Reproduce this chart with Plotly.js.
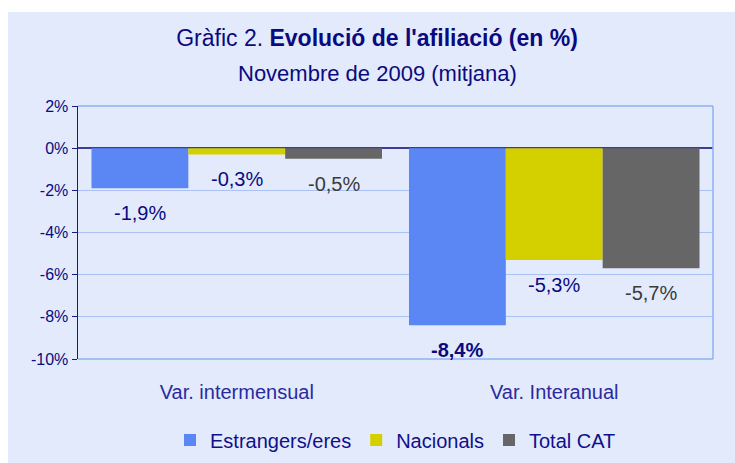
<!DOCTYPE html>
<html>
<head>
<meta charset="utf-8">
<script src="https://cdn.plot.ly/plotly-3.0.1.min.js"></script>
<style>
  html, body { margin: 0; padding: 0; background: #ffffff; }
  #chart { position: absolute; left: 8px; top: 12px; width: 727px; height: 451px; }
</style>
</head>
<body>
<div id="chart"></div>
<script>
const categories = ["Var. intermensual", "Var. Interanual"];
const seriesNames = ["Estrangers/eres", "Nacionals", "Total CAT"];
const estrangers = [-1.9, -8.4];
const nacionals = [-0.3, -5.3];
const totalCat = [-0.5, -5.7];
const yTickVals = [2, 0, -2, -4, -6, -8, -10];
const yTickText = ["2%", "0%", "-2%", "-4%", "-6%", "-8%", "-10%"];
const titleLine1 = "Gràfic 2. <b>Evolució de l'afiliació (en %)</b>";
const titleLine2 = "Novembre de 2009 (mitjana)";

const colors = ["#5b87f5", "#d4d000", "#666666"];
const labelColors = ["#0a0a80", "#0a0a80", "#3a3a3a"];
const labelBold = [[false, true], [false, false], [false, false]];
const seriesValues = [estrangers, nacionals, totalCat];
const bargap = 0.085;
const barW = (1 - bargap) / 3;

const fmt = v => v.toFixed(1).replace('.', ',') + '%';

const traces = seriesValues.map((vals, i) => ({
  type: 'bar',
  name: seriesNames[i],
  x: categories,
  y: vals,
  marker: { color: colors[i], line: { width: 0 } },
  hoverinfo: 'none'
}));

const annotations = [];
seriesValues.forEach((vals, i) => {
  vals.forEach((v, j) => {
    const t = fmt(v);
    annotations.push({
      x: j + (i - 1) * barW,
      y: v,
      xref: 'x', yref: 'y',
      text: labelBold[i][j] ? '<b>' + t + '</b>' : t,
      showarrow: false,
      yanchor: 'top',
      yshift: -12,
      font: { family: 'Liberation Sans, Arial, sans-serif', size: 20, color: labelColors[i] }
    });
  });
});
annotations.push({
  xref: 'paper', yref: 'paper', x: 0.4717, y: 1.129,
  xanchor: 'center', yanchor: 'middle', showarrow: false,
  text: titleLine2,
  font: { family: 'Liberation Sans, Arial, sans-serif', size: 22, color: '#0a0a80' }
});

const layout = {
  width: 727,
  height: 451,
  paper_bgcolor: '#e3eafc',
  plot_bgcolor: '#e3eafc',
  margin: { l: 70, r: 22, t: 94, b: 104, autoexpand: false },
  font: { family: 'Liberation Sans, Arial, sans-serif', color: '#0a0a80' },
  title: {
    text: titleLine1,
    font: { size: 23, color: '#0a0a80' },
    xref: 'container', x: 0.5076, xanchor: 'center',
    yref: 'container', y: 0.9424, yanchor: 'middle'
  },
  barmode: 'group',
  bargap: bargap,
  bargroupgap: 0,
  showlegend: true,
  legend: {
    orientation: 'h',
    x: 0.5, xanchor: 'center',
    yref: 'container',
    y: 0.051, yanchor: 'middle',
    font: { size: 20, color: '#10108a' },
    bgcolor: 'rgba(0,0,0,0)',
    traceorder: 'normal'
  },
  xaxis: {
    type: 'category',
    showgrid: false,
    showline: false,
    zeroline: false,
    ticks: '',
    automargin: false,
    tickfont: { size: 20, color: '#2a2aa0' },
    ticklabelstandoff: 19
  },
  yaxis: {
    range: [-10, 2],
    automargin: false,
    tickvals: yTickVals,
    ticktext: yTickText,
    showgrid: true,
    gridcolor: '#a9c1f7',
    gridwidth: 1,
    zeroline: true,
    zerolinecolor: '#3c3c9a',
    zerolinewidth: 1.5,
    showline: true,
    linecolor: '#1a1a80',
    linewidth: 1.5,
    ticks: 'outside',
    ticklen: 5,
    tickcolor: '#1a1a80',
    tickfont: { size: 16, color: '#0a0a80' },
    fixedrange: true
  },
  shapes: [
    { type: 'line', xref: 'paper', yref: 'paper', x0: 1, x1: 1, y0: 0, y1: 1,
      line: { color: '#8fb0f2', width: 1.5 } },
    { type: 'line', xref: 'paper', yref: 'paper', x0: 0, x1: 1, y0: 0, y1: 0,
      line: { color: '#8fb0f2', width: 1.5 } },
    { type: 'line', xref: 'paper', yref: 'paper', x0: 0, x1: 1, y0: 1, y1: 1,
      line: { color: '#8fb0f2', width: 1.5 } }
  ],
  annotations: annotations
};

Plotly.newPlot('chart', traces, layout, { displayModeBar: false, staticPlot: true });
</script>
</body>
</html>
